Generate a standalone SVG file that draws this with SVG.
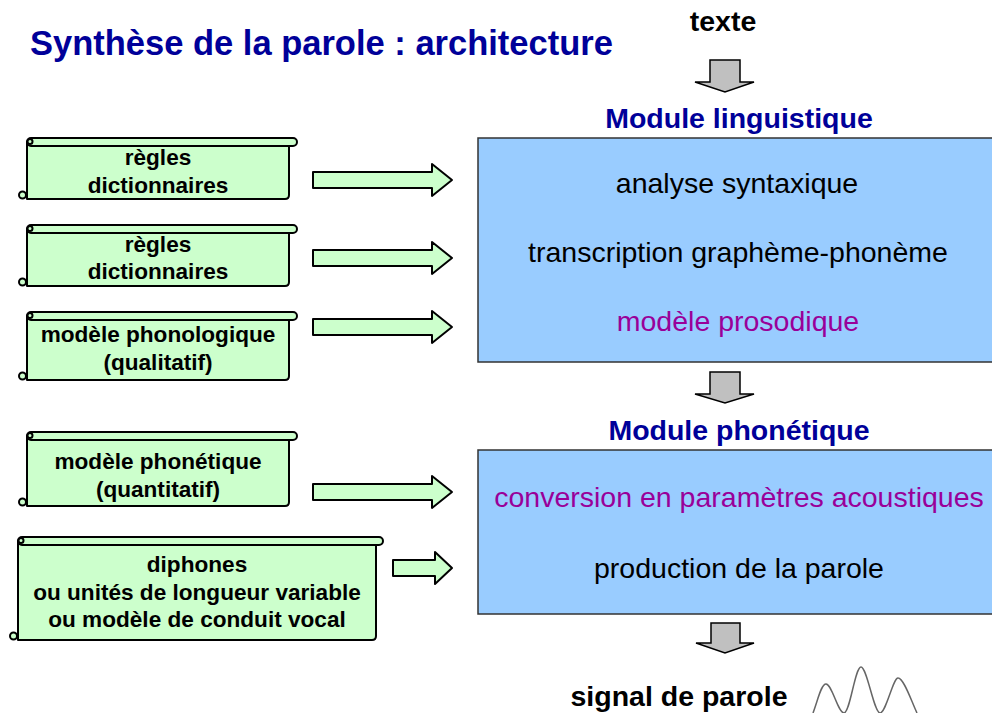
<svg xmlns="http://www.w3.org/2000/svg" width="992" height="713" viewBox="0 0 992 713">
<defs>
<style>
text{font-family:"Liberation Sans",Arial,sans-serif;}
.title{font-size:34.5px;font-weight:bold;fill:#000099;}
.head{font-size:28.5px;font-weight:bold;text-anchor:middle;}
.blue{fill:#000099;}
.mod{font-size:28.5px;text-anchor:middle;fill:#000;}
.purple{fill:#990099;}
.scr{font-size:22.6px;font-weight:bold;text-anchor:middle;fill:#000;}
.green{fill:#ccffcc;stroke:#000;stroke-width:2;stroke-linejoin:round;}
.curl{fill:#ccffcc;stroke:#000;stroke-width:2;}
.box{fill:#99ccff;stroke:#333;stroke-width:1.5;}
.gray{fill:#c0c0c0;stroke:#000;stroke-width:1.5;stroke-linejoin:miter;}
</style>
</defs>
<rect width="992" height="713" fill="#fff"/>
<text class="title" x="30" y="55">Synthèse de la parole : architecture</text>

<g id="texte"><text class="head" x="723" y="31" font-size="27">texte</text></g>

<g id="module-linguistique">
<text class="head blue" x="739" y="128">Module linguistique</text>
<rect class="box" x="478" y="138" width="520" height="224"/>
<text class="mod" x="737" y="193">analyse syntaxique</text>
<text class="mod" x="738" y="262">transcription graphème-phonème</text>
<text class="mod purple" x="738" y="331">modèle prosodique</text>
</g>

<g id="module-phonetique">
<text class="head blue" x="739" y="440">Module phonétique</text>
<rect class="box" x="478" y="450" width="520" height="164"/>
<text class="mod purple" x="739" y="507">conversion en paramètres acoustiques</text>
<text class="mod" x="739" y="578">production de la parole</text>
</g>

<g id="signal">
<text class="head" x="679" y="706">signal de parole</text>
<path d="M813,713 C818,700 821,684 826,684 C832,684 838,713 844,713 C850,713 855,667 861,667 C867,667 874,713 880,713 C886,713 893,678 898,678 C904,678 912,703 917,713" fill="none" stroke="#666" stroke-width="1.5"/>
</g>

<g id="scroll1">
<path class="green" d="M27,142 H289 V195 Q289,199 285,199 H27 Z"/>
<rect class="green" x="27" y="138" width="270" height="8" rx="4"/>
<circle class="curl" cx="30" cy="141.5" r="2.5"/>
<circle class="curl" cx="22.5" cy="195" r="3.5"/>
<text class="scr" x="158" y="165">règles</text>
<text class="scr" x="158" y="193">dictionnaires</text>
</g>

<g id="scroll2">
<path class="green" d="M27,229 H289 V282 Q289,286 285,286 H27 Z"/>
<rect class="green" x="27" y="225" width="270" height="8" rx="4"/>
<circle class="curl" cx="30" cy="228.5" r="2.5"/>
<circle class="curl" cx="22.5" cy="282" r="3.5"/>
<text class="scr" x="158" y="252">règles</text>
<text class="scr" x="158" y="279">dictionnaires</text>
</g>

<g id="scroll3">
<path class="green" d="M27,316 H289 V376 Q289,380 285,380 H27 Z"/>
<rect class="green" x="27" y="312" width="270" height="8" rx="4"/>
<circle class="curl" cx="30" cy="315.5" r="2.5"/>
<circle class="curl" cx="22.5" cy="376" r="3.5"/>
<text class="scr" x="158" y="342">modèle phonologique</text>
<text class="scr" x="158" y="370">(qualitatif)</text>
</g>

<g id="scroll4">
<path class="green" d="M27,436 H289 V502 Q289,506 285,506 H27 Z"/>
<rect class="green" x="27" y="432" width="270" height="8" rx="4"/>
<circle class="curl" cx="30" cy="435.5" r="2.5"/>
<circle class="curl" cx="22.5" cy="502" r="3.5"/>
<text class="scr" x="158" y="469">modèle phonétique</text>
<text class="scr" x="158" y="497">(quantitatif)</text>
</g>

<g id="scroll5">
<path class="green" d="M18,541 H376 V636 Q376,640 372,640 H18 Z"/>
<rect class="green" x="18" y="537" width="365" height="8" rx="4"/>
<circle class="curl" cx="21" cy="540.5" r="2.5"/>
<circle class="curl" cx="13.5" cy="636" r="3.5"/>
<text class="scr" x="197" y="572">diphones</text>
<text class="scr" x="197" y="600">ou unités de longueur variable</text>
<text class="scr" x="197" y="627">ou modèle de conduit vocal</text>
</g>

<g id="connectors">
<path class="green" d="M313,172 H432 V164 L452,180 L432,196 V188 H313 Z"/>
<path class="green" d="M313,250 H432 V242 L452,258 L432,274 V266 H313 Z"/>
<path class="green" d="M313,319 H432 V311 L452,327 L432,343 V335 H313 Z"/>
<path class="green" d="M313,484 H432 V476 L452,492 L432,508 V500 H313 Z"/>
<path class="green" d="M393,560 H435 V552 L452,568 L435,584 V576 H393 Z"/>
<path class="gray" d="M710,60 H740 V82 H754 L725,92 L695,82 H710 Z"/>
<path class="gray" d="M710,372 H740 V394 H754 L725,403 L695,394 H710 Z"/>
<path class="gray" d="M711,623 H740 V643 H754 L725,653 L696,643 H711 Z"/>
</g>
</svg>
